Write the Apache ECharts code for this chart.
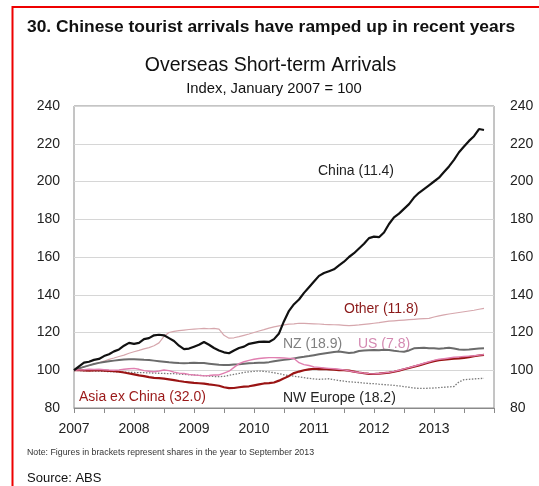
<!DOCTYPE html>
<html>
<head>
<meta charset="utf-8">
<title>Overseas Short-term Arrivals</title>
<script src="https://cdn.jsdelivr.net/npm/echarts@6/dist/echarts.min.js"></script>
<style>
  html, body { margin: 0; padding: 0; background: #fff; }
  #chart { width: 539px; height: 486px; }
</style>
</head>
<body>
<div id="chart"></div>
<script>
// Monthly categories, Jan 2007 to Jan 2014
const months = [];
for (let y = 2007; y <= 2014; y++) {
  for (let m = 1; m <= 12; m++) {
    if (y === 2014 && m > 1) break;
    months.push(y + '-' + String(m).padStart(2, '0'));
  }
}

const yTicks = [80, 100, 120, 140, 160, 180, 200, 220, 240];

// Index, January 2007 = 100 (monthly, Jan 2007 - Nov 2013)
const china = [100, 102, 104, 104.5, 105.5, 106, 107.5, 108.5, 110, 111, 113, 114.5,
  114, 114.5, 116.5, 117, 118.5, 118.8, 118.5, 117, 115.5, 113, 111.2, 111.5,
  112.5, 113.5, 115, 113.5, 111.8, 110.5, 109.5, 109, 110.5, 111.8, 112.5, 114,
  114.5, 115, 115.2, 115, 116.5, 119.5, 126, 131.5, 135, 137.5, 141, 144,
  147, 150, 151.5, 152.5, 153.5, 155.5, 157.5, 160, 162, 164.5, 167, 170,
  170.8, 170.5, 173, 177.5, 181, 183, 185.5, 188, 191.5, 194, 196, 198,
  200, 202, 205, 208, 211.5, 215.5, 218.5, 221.5, 224, 227.8, 227.3];

const other = [100, 101, 101.8, 102.5, 103.3, 104, 104.8, 105.8, 106.5, 107.3, 108, 109,
  109.8, 110.5, 111.3, 112, 113, 114.5, 118, 120, 120.6, 121, 121.3, 121.6,
  121.8, 122, 122.2, 122, 122.2, 121.8, 118.5, 117, 117.2, 117.8, 118.5, 119.2,
  120, 120.8, 121.5, 122.3, 123, 123.5, 124, 124.4, 124.6, 124.9, 124.8, 124.7,
  124.6, 124.5, 124.3, 124.2, 124.1, 124, 123.8, 123.6, 123.8, 124, 124.3, 124.6,
  124.9, 125.2, 125.6, 126, 126.2, 126.4, 126.6, 126.8, 127, 127.2, 127.4, 127.5,
  128.2, 128.8, 129.3, 129.8, 130.2, 130.6, 131, 131.4, 131.8, 132.3, 132.8];

const asiaExChina = [100, 100, 99.9, 99.8, 99.9, 100, 99.8, 99.6, 99.5, 99.2, 98.8, 98.3,
  97.8, 97.3, 96.9, 96.4, 96, 95.8, 95.6, 95.2, 94.8, 94.3, 93.9, 93.6,
  93.3, 93.1, 92.9, 92.5, 92.2, 91.8, 91, 90.5, 90.6, 91, 91.3, 91.5,
  92, 92.5, 93, 93.2, 93.5, 94.5, 95.7, 97, 98.5, 99.3, 100, 100.5,
  100.8, 100.6, 100.7, 100.5, 100.3, 100.1, 100, 99.8, 99.3, 98.8, 98.4, 98.1,
  98, 98.2, 98.5, 98.7, 99.2, 99.8, 100.5, 101.2, 101.9, 102.6, 103.4, 104.1,
  104.8, 105.3, 105.6, 105.9, 106.1, 106.3, 106.6, 107, 107.4, 107.8, 108.1];

const us = [100, 100.2, 100.3, 100.5, 100.4, 100.5, 100.3, 100.1, 100, 100.2, 100.5, 100.8,
  101, 100.5, 99.8, 99.5, 99.2, 99.6, 100.1, 99.8, 99, 98.5, 98.3, 97.8,
  97.5, 97.3, 97, 97.2, 97.5, 97.5, 98.5, 99.5, 101.5, 103.5, 104.5, 105.2,
  105.8, 106.2, 106.5, 106.7, 106.7, 106.6, 106.5, 106.3, 106.2, 104, 103, 102.5,
  101.8, 101.5, 101.2, 101, 100.8, 100.5, 100.2, 99.7, 99.2, 98.8, 98.5, 98.2,
  98.1, 98.3, 98.6, 98.9, 99.4, 100, 100.7, 101.4, 102.1, 102.9, 103.7, 104.5,
  105.2, 105.8, 106.1, 106.5, 106.9, 107.1, 107.3, 107.5, 107.7, 108, 108.3];

const nz = [100, 101, 101.8, 102.6, 103.3, 103.9, 104.4, 104.8, 105.1, 105.4, 105.7, 105.8,
  105.8, 105.7, 105.5, 105.4, 105.1, 104.8, 104.5, 104.2, 104, 103.8, 103.7, 103.8,
  104, 103.9, 103.8, 103.5, 103.2, 102.9, 102.8, 102.8, 103, 103.2, 103.5, 103.7,
  103.8, 104, 104, 104.3, 104.8, 105.2, 105.5, 105.8, 106.3, 106.8, 107.1, 107.5,
  108, 108.5, 108.9, 109.3, 109.7, 109.9, 109.5, 109.1, 109.4, 110.2, 110.5, 110.6,
  110.7, 110.6, 110.8, 110.7, 110.3, 110, 109.8, 110.5, 111.6, 111.8, 111.9, 111.7,
  111.6, 111.4, 111.6, 111.9, 111.5, 111, 110.8, 111, 111.3, 111.5, 111.6];

const nwEurope = [100, 99.8, 99.7, 99.8, 99.6, 99.5, 99.4, 99.3, 99.2, 99.2, 99, 98.9,
  98.8, 98.7, 98.7, 98.6, 98.5, 98.4, 98.3, 98.2, 98.2, 98, 97.8, 97.6,
  97.5, 97.3, 97.1, 96.9, 96.7, 96.6, 96.8, 97.3, 97.8, 98.3, 98.8, 99.2,
  99.4, 99.6, 99.4, 99.1, 98.7, 98.2, 97.6, 97.2, 96.8, 96.5, 96.1, 95.7,
  95.4, 95.2, 95.3, 95.5, 95, 94.6, 94.2, 93.9, 93.7, 93.5, 93.2, 93,
  92.9, 92.6, 92.4, 92.2, 92, 91.7, 91.3, 91, 90.6, 90.4, 90.4, 90.5,
  90.6, 90.8, 91, 91.2, 91.4, 93.8, 95, 95.2, 95.4, 95.6, 95.7];

const font = 'Liberation Sans, Arial, sans-serif';

const chart = echarts.init(document.getElementById('chart'), null, { renderer: 'canvas' });

function line(name, data, color, width, type, z) {
  return {
    name, type: 'line', data, showSymbol: false, symbol: 'none',
    lineStyle: { color, width, type: type || 'solid' },
    z: z || 2, animation: false
  };
}

function text(x, y, str, opts) {
  return {
    type: 'text', x, y, silent: true,
    style: Object.assign({
      text: str, font: '14px ' + font, fill: '#222',
      textAlign: 'left', textVerticalAlign: 'middle'
    }, opts || {})
  };
}

const yAxisBase = {
  type: 'value', min: yTicks[0], max: yTicks[yTicks.length - 1], interval: 20,
  axisLine: { show: false }, axisTick: { show: false },
  axisLabel: { color: '#222', fontSize: 14, fontFamily: font, margin: 14 }
};

chart.setOption({
  animation: false,
  grid: { left: 74, right: 45, top: 106, bottom: 78, show: true, borderColor: '#8a8a8a', borderWidth: 1, backgroundColor: 'transparent' },
  xAxis: {
    type: 'category', data: months, boundaryGap: false,
    axisLine: { show: true, lineStyle: { color: '#8a8a8a', width: 1 } },
    axisTick: { show: true, inside: false, length: 5, lineStyle: { color: '#8a8a8a' },
      interval: (i) => i % 6 === 0 },
    axisLabel: {
      color: '#222', fontSize: 14, fontFamily: font, margin: 14,
      interval: (i, v) => v.endsWith('-01') && !v.startsWith('2014'),
      formatter: (v) => v.slice(0, 4)
    },
    splitLine: { show: false }
  },
  yAxis: [
    Object.assign({}, yAxisBase, {
      position: 'left',
      splitLine: { show: true, lineStyle: { color: '#d6d6d6', width: 1 } }
    }),
    Object.assign({}, yAxisBase, {
      position: 'right', splitLine: { show: false },
      axisLabel: Object.assign({}, yAxisBase.axisLabel, { margin: 16 })
    })
  ],
  series: [
    line('NW Europe', nwEurope, '#7a7a7a', 1.3, [1.5, 1.5], 2),
    line('Other', other, '#d6a7ad', 1.2, 'solid', 3),
    line('NZ', nz, '#6b6b6b', 2, 'solid', 4),
    line('Asia ex China', asiaExChina, '#9a1414', 2.2, 'solid', 5),
    line('US', us, '#e07fb0', 1.4, 'solid', 6),
    line('China', china, '#111111', 2.2, 'solid', 7)
  ],
  graphic: [
    // red frame, top and left edges
    { type: 'line', silent: true, shape: { x1: 12.5, y1: 7, x2: 539, y2: 7 }, style: { stroke: '#ee0000', lineWidth: 2 } },
    { type: 'line', silent: true, shape: { x1: 12.5, y1: 6, x2: 12.5, y2: 486 }, style: { stroke: '#ee0000', lineWidth: 2 } },
    text(27, 27, '30. Chinese tourist arrivals have ramped up in recent years', { font: 'bold 17.4px ' + font, fill: '#111' }),
    text(270.5, 66, 'Overseas Short-term Arrivals', { font: '19.5px ' + font, fill: '#111', textAlign: 'center' }),
    text(274, 89, 'Index, January 2007 = 100', { font: '14.8px ' + font, fill: '#111', textAlign: 'center' }),
    text(318, 171, 'China (11.4)', { fill: '#222' }),
    text(344, 309, 'Other (11.8)', { fill: '#8b1a1a' }),
    text(283, 344, 'NZ (18.9)', { fill: '#808080' }),
    text(358, 344, 'US (7.8)', { fill: '#d48ab2' }),
    text(79, 397, 'Asia ex China (32.0)', { fill: '#9a1818' }),
    text(283, 398, 'NW Europe (18.2)', { fill: '#222' }),
    text(27, 453, 'Note: Figures in brackets represent shares in the year to September 2013', { font: '8.8px ' + font, fill: '#333' }),
    text(27, 478, 'Source: ABS', { font: '13px ' + font, fill: '#111' })
  ]
});
</script>
</body>
</html>
